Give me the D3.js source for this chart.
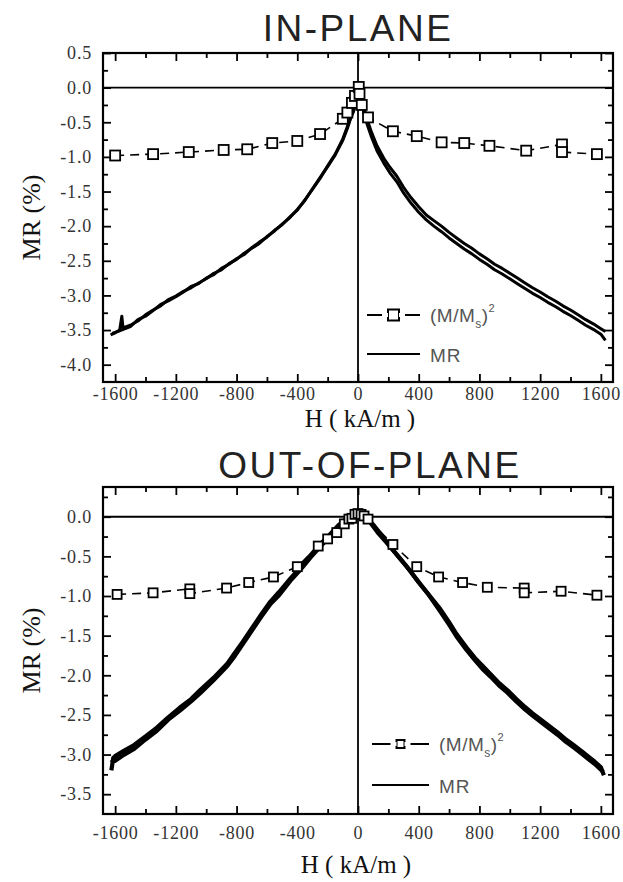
<!DOCTYPE html>
<html>
<head>
<meta charset="utf-8">
<script src="https://cdn.jsdelivr.net/npm/d3@7"></script>
<style>
body { margin: 0; background: #fff; }
svg { display: block; }
</style>
</head>
<body>
<script>
// tick values
var hTicks = [-1600, -1200, -800, -400, 0, 400, 800, 1200, 1600];
var hMinor = [-1400, -1000, -600, -200, 200, 600, 1000, 1400];
var inTicks = [0.5, 0, -0.5, -1, -1.5, -2, -2.5, -3, -3.5, -4];
var inMinor = [0.25, -0.25, -0.75, -1.25, -1.75, -2.25, -2.75, -3.25, -3.75];
var outTicks = [0, -0.5, -1, -1.5, -2, -2.5, -3, -3.5];
var outMinor = [0.25, -0.25, -0.75, -1.25, -1.75, -2.25, -2.75, -3.25];

// IN-PLANE : MR sweeps [H kA/m, MR %]
var inMrA = [[-1630,-3.57],[-1600,-3.54],[-1570,-3.50],[-1556,-3.30],[-1548,-3.47],[-1500,-3.43],[-1450,-3.37],[-1400,-3.28],
  [-1350,-3.21],[-1300,-3.15],[-1250,-3.06],[-1200,-3.01],[-1150,-2.94],[-1100,-2.89],[-1050,-2.82],[-1000,-2.76],
  [-950,-2.68],[-900,-2.63],[-850,-2.54],[-800,-2.48],[-750,-2.39],[-700,-2.32],[-650,-2.25],[-600,-2.15],
  [-550,-2.07],[-500,-1.97],[-450,-1.88],[-400,-1.76],[-350,-1.63],[-300,-1.46],[-250,-1.30],[-200,-1.14],
  [-150,-0.97],[-100,-0.76],[-70,-0.59],[-40,-0.38],[-20,-0.20],[0,-0.06],[12,-0.02],[25,-0.12],[40,-0.30],
  [60,-0.46],[90,-0.65],[125,-0.84],[170,-1.02],[210,-1.15],[256,-1.28],[300,-1.44],[350,-1.59],[400,-1.72],
  [450,-1.84],[500,-1.92],[550,-2.00],[600,-2.09],[650,-2.17],[700,-2.25],[750,-2.32],[800,-2.40],[850,-2.47],
  [900,-2.55],[950,-2.61],[1000,-2.68],[1050,-2.75],[1100,-2.82],[1150,-2.89],[1200,-2.95],[1250,-3.02],
  [1300,-3.08],[1350,-3.15],[1400,-3.21],[1450,-3.28],[1500,-3.35],[1550,-3.41],[1600,-3.48],[1630,-3.52]];
var inMrB = [[-1620,-3.55],[-1580,-3.52],[-1500,-3.45],[-1450,-3.35],[-1400,-3.30],[-1350,-3.22],[-1300,-3.13],
  [-1250,-3.08],[-1200,-3.02],[-1150,-2.95],[-1100,-2.87],[-1050,-2.83],[-1000,-2.75],[-950,-2.70],[-900,-2.61],
  [-850,-2.55],[-800,-2.47],[-750,-2.41],[-700,-2.31],[-650,-2.23],[-600,-2.16],[-550,-2.06],[-500,-1.98],
  [-450,-1.87],[-400,-1.77],[-350,-1.62],[-300,-1.47],[-250,-1.31],[-200,-1.13],[-150,-0.96],[-100,-0.74],
  [-70,-0.56],[-45,-0.42],[-30,-0.35],[-15,-0.25],[0,-0.12],[10,-0.05],[22,-0.20],[40,-0.38],[60,-0.53],
  [90,-0.72],[125,-0.91],[170,-1.09],[210,-1.23],[256,-1.36],[300,-1.52],[350,-1.67],[400,-1.80],[450,-1.91],
  [500,-2.00],[550,-2.08],[600,-2.17],[650,-2.25],[700,-2.33],[750,-2.40],[800,-2.48],[850,-2.55],[900,-2.63],
  [950,-2.69],[1000,-2.76],[1050,-2.83],[1100,-2.90],[1150,-2.97],[1200,-3.03],[1250,-3.10],[1300,-3.16],
  [1350,-3.23],[1400,-3.29],[1450,-3.36],[1500,-3.43],[1550,-3.49],[1600,-3.56],[1630,-3.65]];
// IN-PLANE : (M/Ms)^2 squares
var inSq = [[-1600,-0.98],[-1350,-0.96],[-1115,-0.93],[-885,-0.90],[-730,-0.89],[-565,-0.80],[-400,-0.77],
  [-250,-0.67],[-100,-0.45],[-70,-0.36],[-40,-0.22],[-20,-0.12],[5,0.01],[10,-0.09],[25,-0.25],[66,-0.43],
  [230,-0.63],[387,-0.70],[551,-0.79],[700,-0.80],[866,-0.84],[1108,-0.91],[1344,-0.82],[1344,-0.93],[1574,-0.96]];

// OUT-OF-PLANE : MR sweeps
var outMrA = [[-1625,-3.20],[-1612,-3.04],[-1600,-3.08],[-1540,-3.00],[-1475,-2.93],[-1400,-2.81],[-1325,-2.70],
  [-1250,-2.56],[-1175,-2.45],[-1100,-2.33],[-1036,-2.22],[-950,-2.06],[-860,-1.88],[-820,-1.78],[-760,-1.61],
  [-700,-1.44],[-640,-1.27],[-577,-1.10],[-520,-0.99],[-446,-0.81],[-380,-0.67],[-315,-0.52],[-250,-0.38],
  [-184,-0.25],[-130,-0.15],[-98,-0.08],[-50,0.00],[0,0.03],[40,0.01],[79,-0.07],[130,-0.20],[190,-0.33],
  [255,-0.48],[321,-0.63],[390,-0.80],[452,-0.95],[540,-1.16],[600,-1.33],[649,-1.48],[715,-1.65],[770,-1.78],
  [820,-1.88],[875,-1.99],[930,-2.10],[985,-2.19],[1043,-2.30],[1100,-2.40],[1150,-2.48],[1205,-2.56],
  [1259,-2.64],[1315,-2.72],[1370,-2.81],[1420,-2.88],[1475,-2.96],[1520,-3.03],[1560,-3.09],[1600,-3.16],[1620,-3.26]];
var outMrB = [[-1622,-3.10],[-1600,-3.02],[-1540,-2.95],[-1475,-2.88],[-1400,-2.77],[-1325,-2.66],[-1250,-2.53],
  [-1175,-2.41],[-1100,-2.30],[-1036,-2.18],[-950,-2.03],[-860,-1.85],[-820,-1.74],[-760,-1.58],[-700,-1.41],
  [-640,-1.24],[-577,-1.07],[-520,-0.95],[-446,-0.78],[-380,-0.64],[-315,-0.49],[-250,-0.35],[-184,-0.22],
  [-130,-0.11],[-80,-0.03],[-30,0.03],[20,0.04],[60,-0.02],[100,-0.10],[150,-0.22],[210,-0.37],[270,-0.51],
  [335,-0.66],[400,-0.83],[460,-0.97],[540,-1.19],[600,-1.36],[649,-1.51],[715,-1.68],[770,-1.81],[820,-1.92],
  [875,-2.02],[930,-2.13],[985,-2.22],[1043,-2.33],[1100,-2.43],[1150,-2.51],[1205,-2.59],[1259,-2.67],
  [1315,-2.75],[1370,-2.84],[1420,-2.91],[1475,-2.99],[1520,-3.06],[1560,-3.12],[1600,-3.19],[1615,-3.22]];
var outSq = [[-1587,-0.98],[-1350,-0.96],[-1108,-0.91],[-1108,-0.97],[-866,-0.90],[-720,-0.83],[-557,-0.76],
  [-400,-0.63],[-262,-0.37],[-200,-0.28],[-140,-0.20],[-90,-0.09],[-60,-0.03],[-40,-0.02],[-20,0.03],[0,0.04],
  [20,0.03],[40,0.01],[66,-0.03],[230,-0.35],[387,-0.63],[531,-0.76],
  [689,-0.83],[852,-0.89],[1095,-0.90],[1095,-0.96],[1338,-0.94],[1574,-0.99]];

var svg = d3.select("body").append("svg")
    .attr("width", 623)
    .attr("height", 882);

var serif = "'Liberation Serif', 'Times New Roman', serif";
var sans = "'Liberation Sans', Arial, sans-serif";

function drawPanel(p) {
  var x = d3.scaleLinear().domain([-1680, 1680]).range([p.left, p.right]);
  var y = d3.scaleLinear().domain(p.yDomain).range([p.top, p.bottom]);
  var g = svg.append("g");

  // title
  g.append("text")
    .attr("x", p.titleX).attr("y", p.titleY)
    .attr("text-anchor", "middle")
    .style("font-family", sans).style("font-size", "37px")
    .style("letter-spacing", "2.5px").style("fill", "#222")
    .text(p.title);

  // axes, ticks inward
  function tickAxis(axis, vals, size, transform, labels) {
    var a = axis.tickValues(vals).tickSize(-size);
    if (labels) a.tickFormat(labels).tickPadding(p.padX);
    else a.tickFormat("");
    var ag = g.append("g").attr("transform", transform).call(a);
    ag.select(".domain").remove();
    ag.selectAll("line").attr("stroke", "#000").attr("stroke-width", 1.8);
    return ag;
  }
  var xb = tickAxis(d3.axisBottom(x), hTicks, 8, "translate(0," + p.bottom + ")", function(d) { return String(d); });
  xb.selectAll("text").style("font-family", serif).style("font-size", "18px")
    .style("letter-spacing", "0.8px").style("fill", "#333");
  tickAxis(d3.axisBottom(x), hMinor, 5, "translate(0," + p.bottom + ")");
  tickAxis(d3.axisTop(x), hTicks, 8, "translate(0," + p.top + ")");
  tickAxis(d3.axisTop(x), hMinor, 5, "translate(0," + p.top + ")");

  var yl = d3.axisLeft(y).tickValues(p.yTicks).tickSize(-8).tickPadding(11)
    .tickFormat(function(d) { return d.toFixed(1); });
  var ylg = g.append("g").attr("transform", "translate(" + p.left + ",0)").call(yl);
  ylg.select(".domain").remove();
  ylg.selectAll("line").attr("stroke", "#000").attr("stroke-width", 1.8);
  ylg.selectAll("text").style("font-family", serif).style("font-size", "18px")
    .style("letter-spacing", "0.8px").style("fill", "#333");
  tickAxis(d3.axisLeft(y), p.yMinor, 5, "translate(" + p.left + ",0)");
  tickAxis(d3.axisRight(y), p.yTicks, 8, "translate(" + p.right + ",0)");
  tickAxis(d3.axisRight(y), p.yMinor, 5, "translate(" + p.right + ",0)");

  // frame
  g.append("rect")
    .attr("x", p.left).attr("y", p.top)
    .attr("width", p.right - p.left).attr("height", p.bottom - p.top)
    .attr("fill", "none").attr("stroke", "#000").attr("stroke-width", 2.2);

  // zero lines
  g.append("line").attr("x1", p.left).attr("x2", p.right)
    .attr("y1", y(0)).attr("y2", y(0)).attr("stroke", "#000").attr("stroke-width", 1.8);
  g.append("line").attr("x1", x(0)).attr("x2", x(0))
    .attr("y1", p.top).attr("y2", p.bottom).attr("stroke", "#000").attr("stroke-width", 1.8);

  var line = d3.line().x(function(d) { return x(d[0]); }).y(function(d) { return y(d[1]); });

  // MR curves
  [p.mrA, p.mrB].forEach(function(s) {
    g.append("path").datum(s).attr("d", line)
      .attr("fill", "none").attr("stroke", "#000")
      .attr("stroke-width", p.mrWidth).attr("stroke-linejoin", "round");
  });

  // (M/Ms)^2
  g.append("path").datum(p.sq).attr("d", line)
    .attr("fill", "none").attr("stroke", "#000").attr("stroke-width", 1.6)
    .attr("stroke-dasharray", "9,6");
  g.selectAll(".sq").data(p.sq).enter().append("rect")
    .attr("x", function(d) { return x(d[0]) - p.sqSize / 2; })
    .attr("y", function(d) { return y(d[1]) - p.sqSize / 2; })
    .attr("width", p.sqSize).attr("height", p.sqSize)
    .attr("fill", "#fff").attr("stroke", "#000").attr("stroke-width", 1.8);

  // x / y labels
  g.append("text")
    .attr("x", p.xLabelX).attr("y", p.xLabelY)
    .attr("text-anchor", "middle")
    .style("font-family", serif).style("font-size", "25px").style("fill", "#111")
    .text("H ( kA/m )");
  g.append("text")
    .attr("transform", "translate(40," + ((p.top + p.bottom) / 2) + ") rotate(-90)")
    .attr("text-anchor", "middle")
    .style("font-family", serif).style("font-size", "26px").style("fill", "#111")
    .text("MR (%)");

  // legend
  var lg = g.append("g").attr("transform", "translate(" + p.legX + "," + p.legY + ")");
  lg.append("line").attr("x1", 0).attr("x2", p.legLen).attr("y1", 0).attr("y2", 0)
    .attr("stroke", "#000").attr("stroke-width", 2);
  lg.append("rect").attr("x", p.legLen / 2 - p.legSq / 2).attr("y", -p.legSq / 2)
    .attr("width", p.legSq).attr("height", p.legSq)
    .attr("fill", "#fff").attr("stroke", "#000").attr("stroke-width", 2);
  lg.append("line").attr("x1", p.legLen / 2 - p.legSq / 2 - 6).attr("x2", p.legLen / 2 - p.legSq / 2).attr("y1", 0).attr("y2", 0)
    .attr("stroke", "#fff").attr("stroke-width", 4);
  lg.append("line").attr("x1", p.legLen / 2 + p.legSq / 2).attr("x2", p.legLen / 2 + p.legSq / 2 + 6).attr("y1", 0).attr("y2", 0)
    .attr("stroke", "#fff").attr("stroke-width", 4);
  var t = lg.append("text").attr("x", p.legLen + 10).attr("y", 7)
    .style("font-family", sans).style("font-size", "19px").style("fill", "#555")
    .style("letter-spacing", "0.5px");
  t.append("tspan").text("(M/M");
  t.append("tspan").attr("dy", 6).style("font-size", "12px").text("s");
  t.append("tspan").attr("dy", -6).text(")");
  t.append("tspan").attr("dy", -10).style("font-size", "11px").text("2");
  lg.append("line").attr("x1", 0).attr("x2", p.legLen).attr("y1", p.legGap).attr("y2", p.legGap)
    .attr("stroke", "#000").attr("stroke-width", 2);
  lg.append("text").attr("x", p.legLen + 10).attr("y", p.legGap + 8)
    .style("font-family", sans).style("font-size", "19px").style("fill", "#555")
    .style("letter-spacing", "1px")
    .text("MR");
}

drawPanel({
  title: "IN-PLANE", titleX: 358, titleY: 41,
  left: 103, right: 613, top: 53, bottom: 382,
  yDomain: [0.5, -4.25], yTicks: inTicks, yMinor: inMinor, padX: 5,
  mrA: inMrA, mrB: inMrB, mrWidth: 3, sq: inSq, sqSize: 10,
  xLabelX: 360, xLabelY: 427,
  legX: 367, legY: 315, legLen: 53, legSq: 11, legGap: 39
});
drawPanel({
  title: "OUT-OF-PLANE", titleX: 370, titleY: 478,
  left: 103, right: 613, top: 487, bottom: 814,
  yDomain: [0.375, -3.75], yTicks: outTicks, yMinor: outMinor, padX: 12,
  mrA: outMrA, mrB: outMrB, mrWidth: 4.2, sq: outSq, sqSize: 9,
  xLabelX: 356, xLabelY: 873,
  legX: 372, legY: 744, legLen: 57, legSq: 8, legGap: 41
});
</script>
</body>
</html>
